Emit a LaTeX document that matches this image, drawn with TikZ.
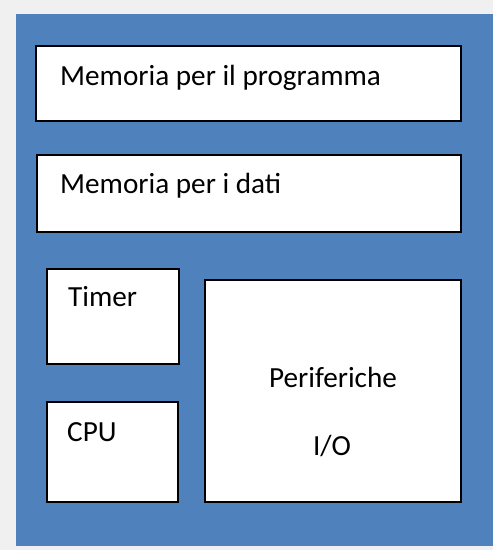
\documentclass[tikz,border=0pt]{standalone}
\usepackage{fontspec}
\setmainfont{Carlito}
\usepackage{tikz}
\usetikzlibrary{positioning}

\definecolor{boardblue}{HTML}{4F81BD}
\definecolor{pagegray}{HTML}{F0F0F0}

\begin{document}
\begin{tikzpicture}[
  x=1pt, y=-1pt,
  block/.style={rectangle, draw=black, line width=1.8pt, fill=white,
                inner sep=0pt, outer sep=0pt},
  lab/.style={font=\fontsize{29.2}{35}\selectfont, inner sep=0pt},
]

% background and board
\fill[pagegray] (0,0) rectangle (493,550);
\fill[boardblue] (16,14) rectangle (493,546);
\useasboundingbox (0,0) rectangle (493,550);

% memories
\node[block, minimum width=425pt, minimum height=75pt] (prog) at (248.5,83.5) {};
\node[block, minimum width=424pt, minimum height=77pt] (dati) at (249,193.5) {};
\node[lab, anchor=base west] (progtxt) at (60,85) {Memoria per il programma};
\node[lab, anchor=base west] (datitxt) at (60,193) {Memoria per i dati};

% timer and cpu
\node[block, minimum width=132pt, minimum height=95pt] (timer) at (113,316.5) {};
\node[block, minimum width=131pt, minimum height=100pt] (cpu) at (112.5,452) {};
\node[lab, anchor=base west] (timertxt) at (68,306) {Timer};
\node[lab, anchor=base west] (cputxt) at (67,441) {CPU};

% peripherals
\node[block, minimum width=256pt, minimum height=222pt] (perif) at (333,391) {};
\node[lab, anchor=base] (periftxt) at (333,387) {Periferiche};
\node[lab, anchor=base] (iotxt) at (332,455) {I/O};

\end{tikzpicture}
\end{document}
